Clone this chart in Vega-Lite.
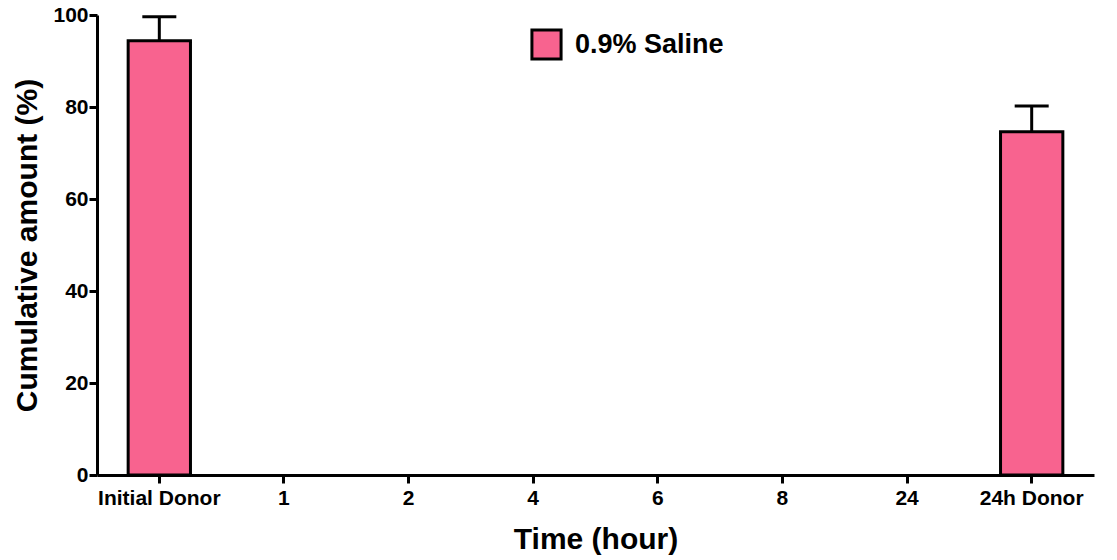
{
  "$schema": "https://vega.github.io/schema/vega-lite/v6.json",
  "autosize": {"type": "none"},
  "width": 997,
  "height": 460,
  "padding": {"left": 97, "top": 15, "right": 23, "bottom": 85},
  "background": "white",
  "config": {
    "view": {"stroke": null},
    "axis": {
      "grid": false,
      "domainColor": "black",
      "domainWidth": 3,
      "tickColor": "black",
      "tickWidth": 3,
      "tickSize": 8,
      "labelFont": "Liberation Sans",
      "labelFontWeight": "bold",
      "labelFontSize": 21,
      "labelColor": "black",
      "titleFont": "Liberation Sans",
      "titleFontWeight": "bold",
      "titleFontSize": 30,
      "titleColor": "black"
    }
  },
  "data": {
    "values": [
      {"time": "Initial Donor", "mean": 94.4, "upper": 99.6, "series": "0.9% Saline"},
      {"time": "1", "mean": 0, "upper": 0, "series": "0.9% Saline"},
      {"time": "2", "mean": 0, "upper": 0, "series": "0.9% Saline"},
      {"time": "4", "mean": 0, "upper": 0, "series": "0.9% Saline"},
      {"time": "6", "mean": 0, "upper": 0, "series": "0.9% Saline"},
      {"time": "8", "mean": 0, "upper": 0, "series": "0.9% Saline"},
      {"time": "24", "mean": 0, "upper": 0, "series": "0.9% Saline"},
      {"time": "24h Donor", "mean": 74.6, "upper": 80.2, "series": "0.9% Saline"}
    ]
  },
  "transform": [{"filter": "datum.mean > 0"}],
  "encoding": {
    "x": {
      "field": "time",
      "type": "nominal",
      "sort": null,
      "scale": {"domain": ["Initial Donor", "1", "2", "4", "6", "8", "24", "24h Donor"], "paddingInner": 0.5, "paddingOuter": 0.25},
      "axis": {"title": "Time (hour)", "labelAngle": 0, "labelPadding": 4, "titlePadding": 16}
    }
  },
  "layer": [
    {
      "mark": {"type": "bar", "stroke": "black", "strokeWidth": 3},
      "encoding": {
        "y": {
          "field": "mean",
          "type": "quantitative",
          "scale": {"domain": [0, 100], "nice": false},
          "axis": {"title": "Cumulative amount (%)", "values": [0, 20, 40, 60, 80, 100], "labelPadding": 1, "titlePadding": 10}
        },
        "color": {
          "field": "series",
          "type": "nominal",
          "scale": {"range": ["#F8638F"]},
          "legend": {
            "title": null,
            "orient": "none",
            "legendX": 433,
            "legendY": 13,
            "symbolType": "square",
            "symbolSize": 850,
            "symbolStrokeColor": "black",
            "symbolStrokeWidth": 3,
            "symbolOpacity": 1,
            "labelFont": "Liberation Sans",
            "labelFontWeight": "bold",
            "labelFontSize": 27,
            "labelColor": "black",
            "labelOffset": 12
          }
        }
      }
    },
    {
      "transform": [{"filter": "datum.upper > datum.mean"}],
      "mark": {"type": "rule", "color": "black", "strokeWidth": 3},
      "encoding": {
        "y": {"field": "mean", "type": "quantitative"},
        "y2": {"field": "upper"}
      }
    },
    {
      "transform": [{"filter": "datum.upper > datum.mean"}],
      "mark": {"type": "tick", "orient": "horizontal", "color": "black", "thickness": 3, "size": 34, "opacity": 1},
      "encoding": {
        "y": {"field": "upper", "type": "quantitative"}
      }
    }
  ]
}
